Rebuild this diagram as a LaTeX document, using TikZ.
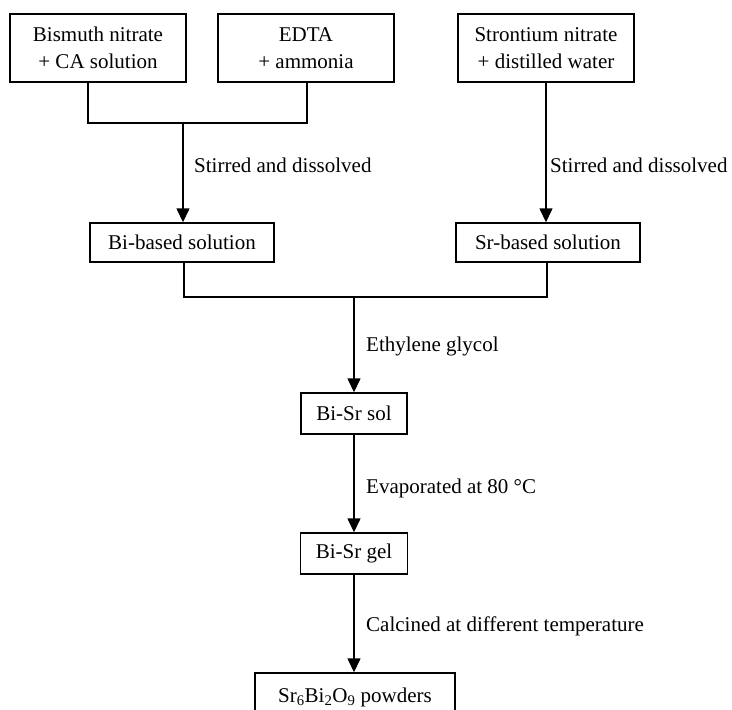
\documentclass[tikz,border=0pt]{standalone}
\usepackage{fontspec}
\setmainfont{Liberation Serif}
\usetikzlibrary{arrows.meta}
\begin{document}
\begin{tikzpicture}[x=1pt,y=-1pt,
  box/.style={draw, line width=1.4pt, inner sep=0pt, align=center, font=\fontsize{21}{27}\selectfont},
  lbl/.style={anchor=base west, inner sep=0pt, font=\fontsize{21}{27}\selectfont},
  conn/.style={line width=1.4pt},
  arr/.style={conn, -{Triangle[width=13pt,length=14pt]}}]
\useasboundingbox (0,0) rectangle (732,710);
\begin{scope}
\clip (0,0) rectangle (732,710);
% boxes
\node[box, minimum width=176pt, minimum height=68pt] (bn) at (98,48) {Bismuth nitrate\\+ CA solution};
\node[box, minimum width=176pt, minimum height=68pt] (edta) at (306,48) {EDTA\\+ ammonia};
\node[box, minimum width=176pt, minimum height=68pt] (sr) at (546,48) {Strontium nitrate\\+ distilled water};
\node[box, minimum width=184pt, minimum height=39pt] (bib) at (182,242.5) {Bi-based solution};
\node[box, minimum width=184pt, minimum height=39pt] (srb) at (548,242.5) {Sr-based solution};
\node[box, minimum width=106pt, minimum height=41pt] (sol) at (354,413.5) {Bi-Sr sol};
\node[box, minimum width=107pt, minimum height=41pt] (gel) at (354,553.5) {Bi-Sr gel};
\node[box, minimum width=200pt, minimum height=48pt] (pow) at (355,697) {Sr\textsubscript{6}Bi\textsubscript{2}O\textsubscript{9} powders};
% junctions
\coordinate (j1) at (183,123);
\coordinate (j2) at (354,297);
% connectors
\draw[conn] ([xshift=-10pt]bn.south) |- (j1);
\draw[conn] ([xshift=1pt]edta.south) |- (j1);
\draw[arr] (j1) -- (j1 |- bib.north);
\draw[arr] (sr.south) -- (sr.south |- srb.north);
\draw[conn] ([xshift=2pt]bib.south) |- (j2);
\draw[conn] ([xshift=-1pt]srb.south) |- (j2);
\draw[arr] (j2) -- (sol.north);
\draw[arr] (sol.south) -- (gel.north);
\draw[arr] (gel.south) -- (gel.south |- pow.north);
% labels
\node[lbl] (l1) at (194,172) {Stirred and dissolved};
\node[lbl] (l2) at (550,172) {Stirred and dissolved};
\node[lbl] (l3) at (366,351) {Ethylene glycol};
\node[lbl] (l4) at (366,493) {Evaporated at 80 °C};
\node[lbl] (l5) at (366,631) {Calcined at different temperature};
\end{scope}
\end{tikzpicture}
\end{document}
